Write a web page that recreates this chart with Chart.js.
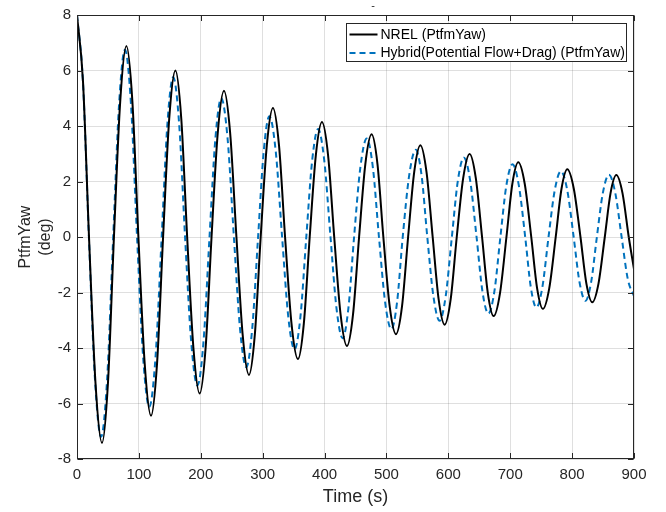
<!DOCTYPE html>
<html>
<head>
<meta charset="utf-8">
<script src="https://cdn.jsdelivr.net/npm/chart.js@4.4.0/dist/chart.umd.min.js"></script>
<style>
html,body{margin:0;padding:0;background:#ffffff;}
#wrap{width:666px;height:512px;}
</style>
</head>
<body>
<div id="wrap"><canvas id="c" width="666" height="512"></canvas></div>
<script>
// ---- data ----
const xTicks = [0, 100, 200, 300, 400, 500, 600, 700, 800, 900];
const yTicks = [-8, -6, -4, -2, 0, 2, 4, 6, 8];
const seriesLabels = ['NREL (PtfmYaw)', 'Hybrid(Potential Flow+Drag) (PtfmYaw)'];

// NREL (time in s, yaw in deg): extremes, zero crossings and flank points
const nrelTime = [0, 9.7, 19.4,
  29.9, 40.4, 50.0, 59.7,   69.8, 79.8, 89.5, 99.2,
  109.4, 119.6, 129.3, 139.1,   149.0, 159.0, 168.5, 178.0,
  188.1, 198.2, 207.8, 217.4,   227.4, 237.5, 247.5, 257.6,
  267.7, 277.9, 287.3, 296.8,   306.7, 316.6, 326.4, 336.2,
  346.6, 357.0, 366.5, 376.0,   385.9, 395.8, 405.7, 415.6,
  425.9, 436.2, 446.0, 455.8,   465.9, 476.0, 485.5, 495.0,
  505.2, 515.4, 525.2, 535.0,   544.9, 554.8, 564.7, 574.7,
  584.3, 594.0, 603.8, 613.6,   624.0, 634.4, 644.4, 654.5,
  663.8, 673.2, 683.5, 693.9,   703.4, 713.0, 723.5, 734.0,
  743.4, 752.8, 763.1, 773.5,   782.8, 792.2, 802.8, 813.5,
  823.0, 832.6, 842.7, 852.8,   862.1, 871.4, 881.4, 891.5,
  900];
const nrelYaw = [8, 5.6, 0,
  -5.27, -7.42, -5.27, 0,   4.88, 6.88, 4.88, 0,
  -4.57, -6.44, -4.57, 0,   4.26, 6.0, 4.26, 0,
  -4.0, -5.64, -4.0, 0,   3.74, 5.27, 3.74, 0,
  -3.53, -4.97, -3.53, 0,   3.30, 4.65, 3.30, 0,
  -3.12, -4.40, -3.12, 0,   2.94, 4.14, 2.94, 0,
  -2.79, -3.93, -2.79, 0,   2.63, 3.70, 2.63, 0,
  -2.49, -3.50, -2.49, 0,   2.35, 3.31, 2.35, 0,
  -2.24, -3.16, -2.24, 0,   2.12, 2.99, 2.12, 0,
  -2.02, -2.85, -2.02, 0,   1.91, 2.69, 1.91, 0,
  -1.84, -2.59, -1.84, 0,   1.73, 2.44, 1.73, 0,
  -1.67, -2.35, -1.67, 0,   1.58, 2.23, 1.58, 0,
  -1.16];

// Hybrid (time in s, yaw in deg)
const hybridTime = [0, 9.6, 19.2,
  29.0, 38.9, 48.7, 58.5,   68.0, 77.5, 87.2, 97.0,
  106.9, 116.8, 126.8, 136.8,   146.1, 155.5, 165.0, 174.6,
  184.6, 194.6, 204.3, 214.1,   223.6, 233.1, 243.3, 253.5,
  263.5, 273.5, 283.0, 292.6,   301.7, 310.8, 321.1, 331.4,
  341.4, 351.5, 361.0, 370.5,   380.0, 389.5, 399.5, 409.6,
  419.4, 429.2, 438.4, 447.7,   457.9, 468.2, 478.0, 487.9,
  497.9, 508.0, 517.1, 526.3,   536.8, 547.4, 556.7, 566.0,
  575.9, 585.8, 595.7, 605.7,   615.4, 625.1, 635.3, 645.6,
  655.1, 664.7, 674.4, 684.1,   693.8, 703.6, 713.9, 724.2,
  733.2, 742.2, 752.0, 761.9,   771.9, 781.9, 792.2, 802.5,
  812.0, 821.5, 830.7, 840.0,   849.7, 859.5, 869.7, 880.0,
  890.0, 900];
const hybridYaw = [8, 5.6, 0,
  -5.11, -7.2, -5.11, 0,   4.79, 6.75, 4.79, 0,
  -4.35, -6.12, -4.35, 0,   4.09, 5.76, 4.09, 0,
  -3.80, -5.35, -3.80, 0,   3.55, 5.0, 3.55, 0,
  -3.33, -4.69, -3.33, 0,   3.09, 4.35, 3.09, 0,
  -2.88, -4.05, -2.88, 0,   2.76, 3.89, 2.76, 0,
  -2.59, -3.65, -2.59, 0,   2.52, 3.55, 2.52, 0,
  -2.36, -3.32, -2.36, 0,   2.23, 3.14, 2.23, 0,
  -2.14, -3.02, -2.14, 0,   2.03, 2.86, 2.03, 0,
  -1.96, -2.76, -1.96, 0,   1.86, 2.62, 1.86, 0,
  -1.80, -2.54, -1.80, 0,   1.68, 2.37, 1.68, 0,
  -1.63, -2.30, -1.63, 0,   1.59, 2.24, 1.59, 0,
  -1.52, -2.13];

// ---- styling ----
const FONT = '"Liberation Sans", Arial, Helvetica, sans-serif';
const AXIS = '#262626';
const GRID = 'rgba(38,38,38,0.15)';

const pts = (xs, ys) => xs.map((x, i) => ({x: x, y: ys[i]}));

const framePlugin = {
  id: 'frame',
  afterDraw(chart) {
    const {ctx, chartArea: a, scales} = chart;
    const L = Math.round(a.left) + 0.5, R = Math.round(a.right) - 0.5;
    const T = Math.round(a.top) + 0.5, B = Math.round(a.bottom) - 0.5;
    const tl = 5.5;
    ctx.save();
    ctx.strokeStyle = AXIS;
    ctx.lineWidth = 1;
    ctx.beginPath();
    xTicks.forEach(v => {
      const p = Math.round(scales.x.getPixelForValue(v)) + 0.5;
      ctx.moveTo(p, B); ctx.lineTo(p, B - tl);
      ctx.moveTo(p, T); ctx.lineTo(p, T + tl);
    });
    yTicks.forEach(v => {
      const p = Math.round(scales.y.getPixelForValue(v)) + 0.5;
      ctx.moveTo(L, p); ctx.lineTo(L + tl, p);
      ctx.moveTo(R, p); ctx.lineTo(R - tl, p);
    });
    ctx.stroke();
    ctx.strokeRect(L, T, R - L, B - T);
    ctx.restore();
  }
};

const legendPlugin = {
  id: 'boxLegend',
  afterDraw(chart) {
    const {ctx, chartArea: a} = chart;
    ctx.save();
    ctx.font = '14px ' + FONT;
    const ds = chart.data.datasets;
    let maxW = 0;
    ds.forEach(d => { maxW = Math.max(maxW, ctx.measureText(d.label).width); });
    const bw = Math.round(34 + maxW + 2);
    const bh = 38;
    const bx = Math.round(a.right - 8 - bw) + 0.5;
    const by = Math.round(a.top + 8) + 0.5;
    ctx.fillStyle = '#ffffff';
    ctx.fillRect(bx, by, bw, bh);
    ctx.strokeStyle = AXIS;
    ctx.lineWidth = 1;
    ctx.strokeRect(bx, by, bw, bh);
    ds.forEach((d, i) => {
      const cy = by + 11 + i * 18.4;
      ctx.beginPath();
      ctx.strokeStyle = d.borderColor;
      ctx.lineWidth = d.borderWidth;
      ctx.setLineDash(d.borderDash || []);
      ctx.moveTo(bx + 3, cy);
      ctx.lineTo(bx + 31, cy);
      ctx.stroke();
      ctx.setLineDash([]);
      ctx.fillStyle = '#000000';
      ctx.textAlign = 'left';
      ctx.textBaseline = 'middle';
      ctx.fillText(d.label, bx + 34, cy + 0.5);
    });
    // small mark above the axes (as in the reference)
    ctx.font = '11px ' + FONT;
    ctx.fillStyle = AXIS;
    ctx.textAlign = 'center';
    ctx.textBaseline = 'middle';
    ctx.fillText('-', 373, 6);
    ctx.restore();
  }
};

new Chart(document.getElementById('c'), {
  type: 'line',
  data: {
    datasets: [
      {
        label: seriesLabels[0],
        data: pts(nrelTime, nrelYaw),
        borderColor: '#000000',
        borderWidth: 2,
        pointRadius: 0,
        cubicInterpolationMode: 'monotone',
        fill: false
      },
      {
        label: seriesLabels[1],
        data: pts(hybridTime, hybridYaw),
        borderColor: '#0072BD',
        borderWidth: 2,
        borderDash: [6, 4],
        pointRadius: 0,
        cubicInterpolationMode: 'monotone',
        fill: false
      }
    ]
  },
  options: {
    responsive: false,
    animation: false,
    devicePixelRatio: 1,
    layout: {padding: {left: 0, right: 32, top: 13, bottom: 0}},
    plugins: {
      legend: {display: false},
      tooltip: {enabled: false},
      title: {display: false}
    },
    scales: {
      x: {
        type: 'linear',
        min: 0, max: 900,
        afterBuildTicks: s => { s.ticks = xTicks.map(v => ({value: v})); },
        afterFit: s => { s.height = 53; },
        grid: {color: GRID, drawTicks: false, lineWidth: 1},
        border: {display: false},
        ticks: {color: AXIS, font: {family: FONT, size: 15}, padding: 7, maxRotation: 0, autoSkip: false},
        title: {display: true, text: 'Time (s)', color: AXIS, font: {family: FONT, size: 18}, padding: {top: 0, bottom: 4}}
      },
      y: {
        type: 'linear',
        min: -8, max: 8,
        afterBuildTicks: s => { s.ticks = yTicks.map(v => ({value: v})); },
        afterFit: s => { s.width = 77; },
        grid: {color: GRID, drawTicks: false, lineWidth: 1},
        border: {display: false},
        ticks: {color: AXIS, font: {family: FONT, size: 15}, padding: 6, autoSkip: false},
        title: {display: true, text: ['PtfmYaw', '(deg)'], color: AXIS, font: {family: FONT, size: 16, lineHeight: 1.25}, padding: {top: 16, bottom: 0}}
      }
    }
  },
  plugins: [framePlugin, legendPlugin]
});
</script>
</body>
</html>
